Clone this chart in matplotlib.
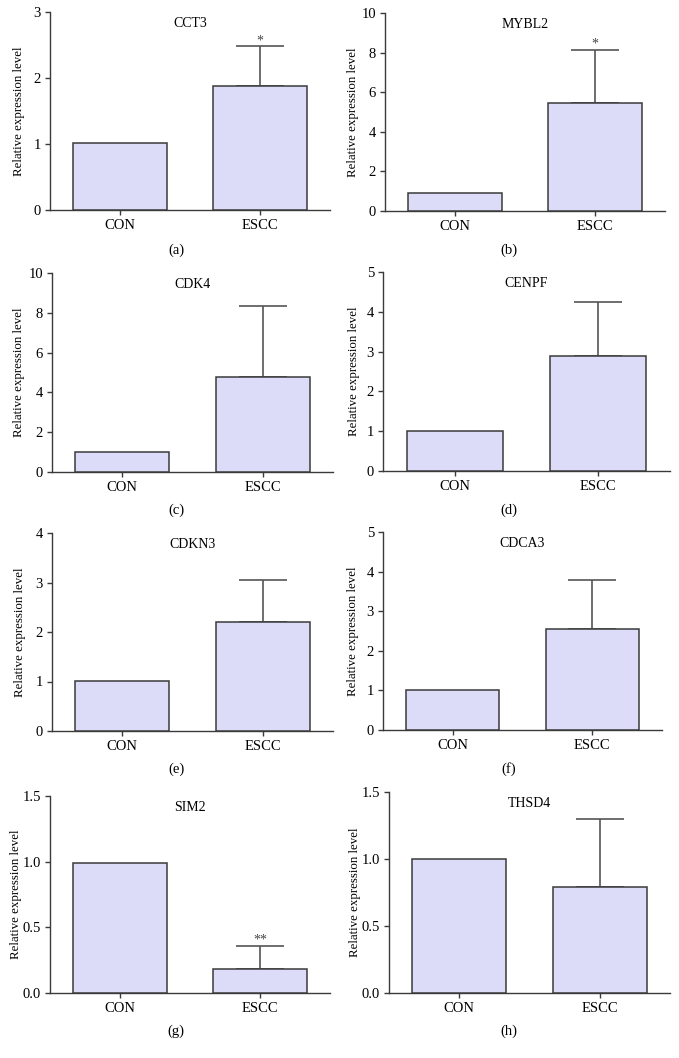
import matplotlib.pyplot as plt

plt.rcParams['font.family'] = ['Liberation Serif', 'DejaVu Serif']

groups = ['CON', 'ESCC']
genes = ['CCT3', 'MYBL2', 'CDK4', 'CENPF', 'CDKN3', 'CDCA3', 'SIM2', 'THSD4']
panel_tags = ['(a)', '(b)', '(c)', '(d)', '(e)', '(f)', '(g)', '(h)']
con_vals = [1.02, 0.90, 1.00, 1.00, 1.01, 1.00, 0.99, 1.00]
escc_vals = [1.88, 5.45, 4.78, 2.90, 2.20, 2.55, 0.18, 0.79]
escc_upper = [2.48, 8.15, 8.35, 4.25, 3.05, 3.80, 0.36, 1.30]
signif = ['*', '*', '', '', '', '', '**', '']
y_max = [3, 10, 10, 5, 4, 5, 1.5, 1.5]
y_ticks = [[0, 1, 2, 3], [0, 2, 4, 6, 8, 10], [0, 2, 4, 6, 8, 10], [0, 1, 2, 3, 4, 5],
           [0, 1, 2, 3, 4], [0, 1, 2, 3, 4, 5], [0.0, 0.5, 1.0, 1.5], [0.0, 0.5, 1.0, 1.5]]
tick_fmt = ['{:g}'] * 6 + ['{:.1f}'] * 2

W, H = 679, 1058
# axes boxes in pixels: left, top, right, bottom
boxes = [(50, 12, 330, 210), (385, 13, 665, 211),
         (52, 273, 333, 472), (383, 272, 670, 471),
         (52, 533, 333, 731), (383, 532, 662, 730),
         (50, 796, 330, 993), (389, 792, 670, 993)]
tag_pos = [(176, 250), (509, 250), (176, 510), (509, 510),
           (176, 769), (509, 769), (176, 1031), (509, 1031)]
ylabel_x = [19, 353, 19, 354, 20, 353, 16, 355]

fill = '#dcdcf8'
edge = '#3a3a3a'

fig = plt.figure(figsize=(W / 100, H / 100), dpi=100)

for i in range(8):
    l, t, r, b = boxes[i]
    ax = fig.add_axes([l / W, 1 - b / H, (r - l) / W, (b - t) / H])
    vals = [con_vals[i], escc_vals[i]]
    ax.errorbar([1], [escc_vals[i]], yerr=[[0], [escc_upper[i] - escc_vals[i]]],
                fmt='none', ecolor='#555555', elinewidth=1.2, capsize=17, capthick=1.2, zorder=2)
    ax.bar([0, 1], vals, width=0.67, color=fill, edgecolor=edge, linewidth=1.1, zorder=3)
    if signif[i]:
        ax.text(1, escc_upper[i] - y_max[i] * 0.005, signif[i], ha='center', va='bottom',
                fontsize=10, color='#444444')
    ax.set_xlim(-0.5, 1.5)
    ax.set_ylim(0, y_max[i])
    ax.set_yticks(y_ticks[i])
    ax.set_yticklabels([tick_fmt[i].format(v) for v in y_ticks[i]])
    ax.set_xticks([0, 1])
    ax.set_xticklabels(groups)
    for s in ['top', 'right']:
        ax.spines[s].set_visible(False)
    for s in ['left', 'bottom']:
        ax.spines[s].set_color(edge)
        ax.spines[s].set_linewidth(1.0)
    ax.tick_params(axis='both', length=3.5, width=1.0, color=edge, labelsize=10.5, pad=3)
    ax.set_ylabel('Relative expression level', fontsize=9.3, va='center')
    ax.yaxis.set_label_coords((ylabel_x[i] - l) / (r - l), 0.5)
    ax.text(0.5, 0.975, genes[i], transform=ax.transAxes, ha='center', va='top', fontsize=10)
    fig.text(tag_pos[i][0] / W, 1 - tag_pos[i][1] / H, panel_tags[i], ha='center', va='center',
             fontsize=10.5)

fig.savefig('out.png', dpi=100)
